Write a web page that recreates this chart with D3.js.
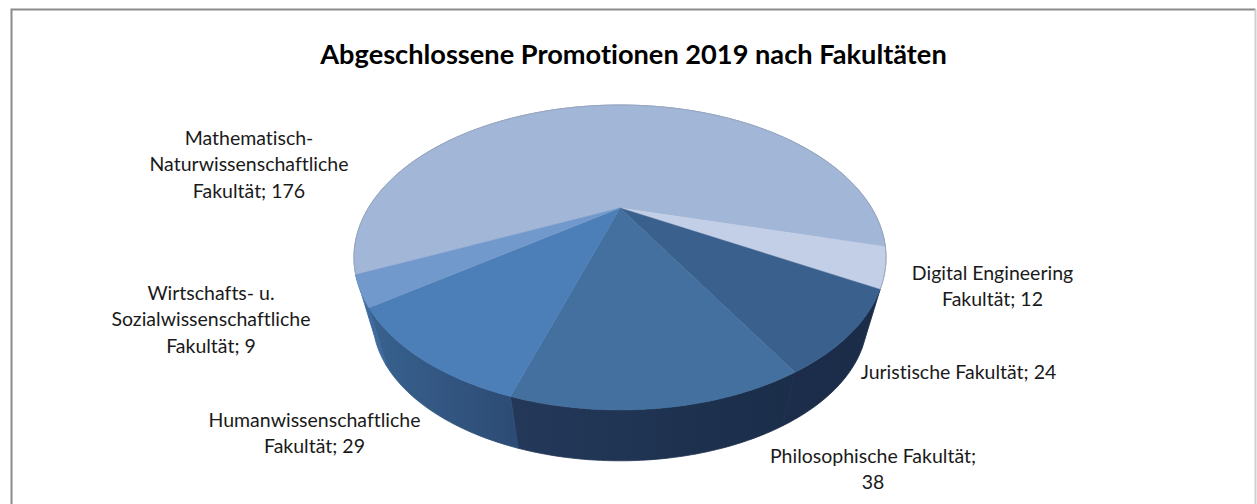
<!DOCTYPE html>
<html>
<head>
<meta charset="utf-8">
<script src="https://cdn.jsdelivr.net/npm/d3@7"></script>
<style>
  html, body { margin: 0; padding: 0; background: #fff; overflow: hidden; }
  text { font-variant-ligatures: none; }
</style>
</head>
<body>
<script>
var w = 1257;
var h = 504;

// data
var faculties = [
  "Mathematisch-Naturwissenschaftliche Fakultät",
  "Digital Engineering Fakultät",
  "Juristische Fakultät",
  "Philosophische Fakultät",
  "Humanwissenschaftliche Fakultät",
  "Wirtschafts- u. Sozialwissenschaftliche Fakultät"
];
var promotions = [176, 12, 24, 38, 29, 9];
var labelLines = [
  ["Mathematisch-", "Naturwissenschaftliche", "Fakultät; 176"],
  ["Digital Engineering", "Fakultät; 12"],
  ["Juristische Fakultät; 24"],
  ["Philosophische Fakultät;", "38"],
  ["Humanwissenschaftliche", "Fakultät; 29"],
  ["Wirtschafts- u.", "Sozialwissenschaftliche", "Fakultät; 9"]
];
var title = "Abgeschlossene Promotionen 2019 nach Fakultäten";

// look
var topColors = ["#a2b6d7", "#c3cfe6", "#3a608e", "#44709f", "#4c7eb8", "#7299cb"];
var sideColors = [
  ["#8fa3c2", "#8fa3c2"],
  ["#a5b2c8", "#a5b2c8"],
  ["#1b2d4a", "#1a2c48"],
  ["#24395a", "#1a2d49"],
  ["#38628f", "#2d4c75"],
  ["#4e7aae", "#3f6a9e"]
];
var labelX = [249, 992.5, 958.5, 873, 314.5, 211];
var labelY = [
  [145, 171, 198],
  [280, 306],
  [379],
  [463, 489],
  [427, 453],
  [300, 326, 353]
];

// perspective of the disc, fitted to the picture
var apex = {x: 620, y: 208};
var rx = 251.6, ry = 136.4, k = 0.3246;
var depth = {scale: 0.93, x: 0, y: 65};
var startDeg = 245;

function project(angle, plane) {
  var u = Math.sin(angle), v = Math.cos(angle);
  var d = 1 + k * v;
  var s = plane ? plane.scale : 1;
  return [
    apex.x + (plane ? plane.x : 0) + s * rx * u / d,
    apex.y + (plane ? plane.y : 0) - s * ry * v / d
  ];
}

function arcPoints(a0, a1, plane) {
  var n = Math.max(2, Math.ceil(Math.abs(a1 - a0) * 60));
  return d3.range(n + 1).map(function (i) {
    return project(a0 + (a1 - a0) * i / n, plane);
  });
}

var start = startDeg * Math.PI / 180;
var slices = d3.pie().sort(null).startAngle(start).endAngle(start + 2 * Math.PI)(promotions);
var line = d3.line();

var svg = d3.select("body").append("svg")
  .attr("width", w)
  .attr("height", h)
  .style("display", "block");

// frame, open at the bottom
svg.append("path")
  .attr("d", "M11.5,504V9.5H1255.5")
  .attr("fill", "none")
  .attr("stroke", "#8c8c8c")
  .attr("stroke-width", 2);
svg.append("path")
  .attr("d", "M1255.5,9.5V504")
  .attr("fill", "none")
  .attr("stroke", "#cfcfcf")
  .attr("stroke-width", 2);

svg.append("text")
  .text(title)
  .attr("x", 633.5)
  .attr("y", 64)
  .attr("text-anchor", "middle")
  .attr("font-family", "Lato")
  .attr("font-weight", "bold")
  .attr("font-size", 27.2)
  .attr("fill", "#000");

// side gradients
var defs = svg.append("defs");
slices.forEach(function (d, i) {
  var xs = arcPoints(d.startAngle, d.endAngle).map(function (p) { return p[0]; });
  var g = defs.append("linearGradient")
    .attr("id", "side" + i)
    .attr("gradientUnits", "userSpaceOnUse")
    .attr("x1", d3.min(xs)).attr("x2", d3.max(xs))
    .attr("y1", 0).attr("y2", 0);
  g.append("stop").attr("offset", 0).attr("stop-color", sideColors[i][0]);
  g.append("stop").attr("offset", 1).attr("stop-color", sideColors[i][1]);
});

// walls
svg.append("g").selectAll("path")
  .data(slices)
  .join("path")
  .attr("fill", function (d, i) { return "url(#side" + i + ")"; })
  .attr("stroke", function (d, i) { return "url(#side" + i + ")"; })
  .attr("stroke-width", 0.8)
  .attr("d", function (d) {
    var outer = arcPoints(d.startAngle, d.endAngle);
    var lower = arcPoints(d.endAngle, d.startAngle, depth);
    return line(outer.concat(lower)) + "Z";
  });

// top faces
svg.append("g").selectAll("path")
  .data(slices)
  .join("path")
  .attr("fill", function (d, i) { return topColors[i]; })
  .attr("stroke", function (d, i) { return topColors[i]; })
  .attr("stroke-width", 0.5)
  .attr("d", function (d) {
    return line([[apex.x, apex.y]].concat(arcPoints(d.startAngle, d.endAngle))) + "Z";
  });

// thin rim on the pale slices
svg.append("g").selectAll("path")
  .data(slices.slice(0, 2))
  .join("path")
  .attr("fill", "none")
  .attr("stroke", "#98a6be")
  .attr("stroke-width", 1)
  .attr("d", function (d) { return line(arcPoints(d.startAngle, d.endAngle)); });

// labels
labelLines.forEach(function (lines, i) {
  lines.forEach(function (txt, j) {
    svg.append("text")
      .text(txt)
      .attr("x", labelX[i])
      .attr("y", labelY[i][j])
      .attr("text-anchor", "middle")
      .attr("font-family", "Lato")
      .attr("font-size", 19.5)
      .attr("fill", "#1a1a1a");
  });
});
</script>
</body>
</html>
